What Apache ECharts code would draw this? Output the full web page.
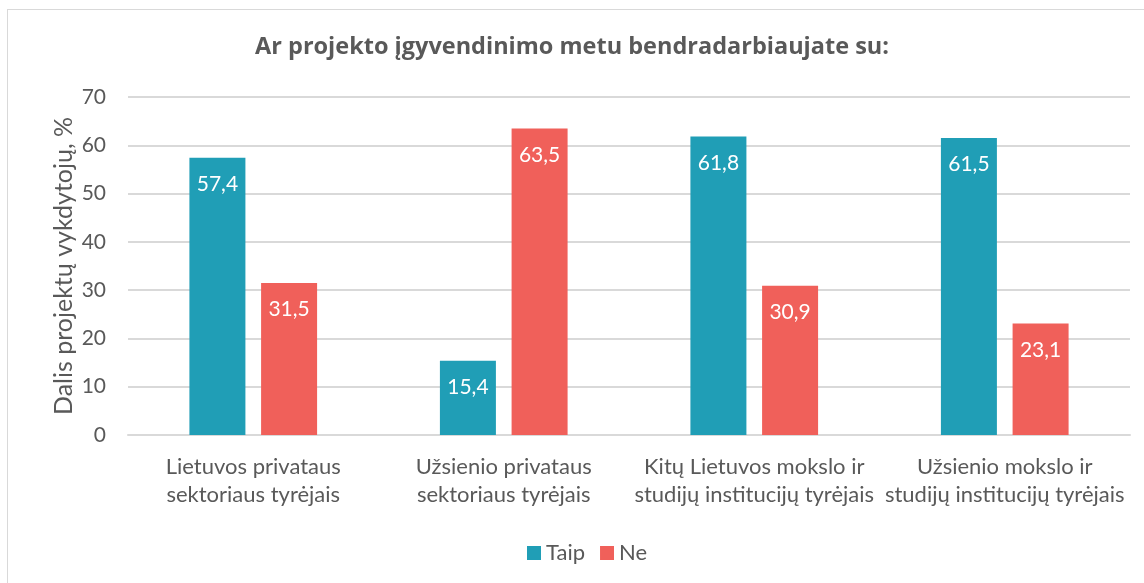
<!DOCTYPE html>
<html>
<head>
<meta charset="utf-8">
<script src="https://cdn.jsdelivr.net/npm/echarts@6/dist/echarts.min.js"></script>
<style>
    html, body { margin: 0; padding: 0; background: #fff; }
    #frame { position: absolute; left: 7px; top: 9px; width: 1150px; height: 600px; border: 1px solid #d9d9d9; }
    #chart { position: absolute; left: 0; top: 0; width: 1144px; height: 583px; }
</style>
</head>
<body>
<div id="frame"></div>
<div id="chart"></div>
<script>
// dati
var categories = [
    'Lietuvos privataus\nsektoriaus tyrėjais',
    'Užsienio privataus\nsektoriaus tyrėjais',
    'Kitų Lietuvos mokslo ir\nstudijų institucijų tyrėjais',
    'Užsienio mokslo ir\nstudijų institucijų tyrėjais'
];
var taipValues = [57.4, 15.4, 61.8, 61.5];
var neValues = [31.5, 63.5, 30.9, 23.1];
var seriesNames = ['Taip', 'Ne'];

var FONT = 'Lato';
var TEXT_COLOR = '#595959';

var chart = echarts.init(document.getElementById('chart'));

function fmt(p) {
    return String(p.value).replace('.', ',');
}

var labelStyle = {
    show: true,
    position: 'insideTop',
    distance: 16,
    color: '#fff',
    fontFamily: FONT,
    fontSize: 21,
    formatter: fmt
};

chart.setOption({
    animation: false,
    title: {
        text: 'Ar projekto įgyvendinimo metu bendradarbiaujate su:',
        left: 'center',
        top: 30,
        textStyle: {
            fontFamily: 'Open Sans',
            fontSize: 23.5,
            fontWeight: 'bold',
            color: TEXT_COLOR
        }
    },
    legend: {
        data: seriesNames,
        top: 537,
        left: 522,
        icon: 'rect',
        itemWidth: 14,
        itemHeight: 14,
        itemGap: 15,
        textStyle: {
            fontFamily: FONT,
            fontSize: 22,
            color: TEXT_COLOR
        }
    },
    grid: {
        left: 128,
        right: 14,
        top: 97,
        bottom: 148
    },
    xAxis: {
        type: 'category',
        data: categories,
        axisLine: { lineStyle: { color: '#d9d9d9', width: 2 } },
        axisTick: { show: false },
        axisLabel: {
            interval: 0,
            margin: 18,
            fontFamily: FONT,
            fontSize: 22,
            lineHeight: 28,
            color: TEXT_COLOR
        }
    },
    yAxis: {
        type: 'value',
        min: 0,
        max: 70,
        interval: 10,
        name: 'Dalis projektų vykdytojų, %',
        nameLocation: 'middle',
        nameGap: 52,
        nameMoveOverlap: false,
        nameTextStyle: {
            fontFamily: FONT,
            fontSize: 25,
            color: TEXT_COLOR
        },
        axisLine: { show: false },
        axisTick: { show: false },
        axisLabel: {
            margin: 22,
            fontFamily: FONT,
            fontSize: 21,
            color: TEXT_COLOR
        },
        splitLine: { lineStyle: { color: '#d9d9d9', width: 2 } }
    },
    series: [
        {
            name: seriesNames[0],
            type: 'bar',
            data: taipValues,
            barWidth: 56,
            barGap: '28%',
            itemStyle: { color: '#209EB6' },
            label: labelStyle
        },
        {
            name: seriesNames[1],
            type: 'bar',
            data: neValues,
            barWidth: 56,
            itemStyle: { color: '#F0605A' },
            label: labelStyle
        }
    ]
});
</script>
</body>
</html>
